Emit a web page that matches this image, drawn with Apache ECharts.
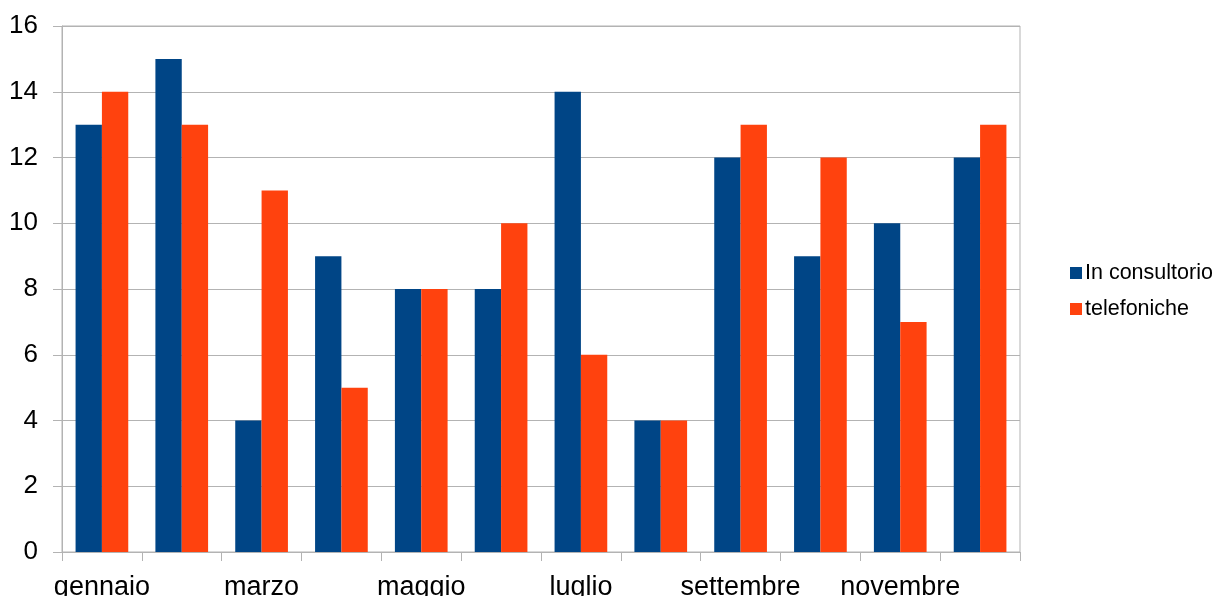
<!DOCTYPE html>
<html>
<head>
<meta charset="utf-8">
<script src="https://cdn.jsdelivr.net/npm/echarts@6/dist/echarts.min.js"></script>
<style>
  html, body { margin: 0; padding: 0; background: #fff; }
  #chart { width: 1220px; height: 596px; }
</style>
</head>
<body>
<div id="chart"></div>
<script>
// Monthly counts: in-office consultations vs. phone consultations
const months = ['gennaio', 'febbraio', 'marzo', 'aprile', 'maggio', 'giugno',
                'luglio', 'agosto', 'settembre', 'ottobre', 'novembre', 'dicembre'];
const inConsultorio = [13, 15, 4, 9, 8, 8, 14, 4, 12, 9, 10, 12];
const telefoniche   = [14, 13, 11, 5, 8, 10, 6, 4, 13, 12, 7, 13];
const seriesNames = ['In consultorio', 'telefoniche'];

const gridColor = '#b3b3b3';
const font = 'Liberation Sans, Arial, sans-serif';

const chart = echarts.init(document.getElementById('chart'), null, { renderer: 'canvas' });
chart.setOption({
  animation: false,
  backgroundColor: '#ffffff',
  grid: {
    left: 62, right: 200, top: 26, bottom: 44,
    show: true, borderColor: gridColor, borderWidth: 1,
    containLabel: false, outerBoundsMode: 'none'
  },
  legend: {
    orient: 'vertical',
    left: 1065, top: 257,
    itemWidth: 12, itemHeight: 12, itemGap: 14,
    icon: 'rect',
    textStyle: { fontFamily: font, fontSize: 21.5, color: '#000', padding: [0, 0, 0, -2] },
    data: seriesNames
  },
  xAxis: {
    type: 'category',
    data: months,
    boundaryGap: true,
    axisLine: { show: true, lineStyle: { color: gridColor, width: 1 } },
    axisTick: { show: true, interval: 0, length: 9, lineStyle: { color: gridColor } },
    axisLabel: {
      interval: 1, margin: 22,
      fontFamily: font, fontSize: 27, color: '#000'
    },
    splitLine: { show: false }
  },
  yAxis: {
    type: 'value',
    min: 0, max: 16, interval: 2,
    axisLine: { show: true, lineStyle: { color: gridColor, width: 1 } },
    axisTick: { show: true, length: 9, lineStyle: { color: gridColor } },
    axisLabel: { margin: 24, fontFamily: font, fontSize: 26, color: '#000' },
    splitLine: { show: true, lineStyle: { color: gridColor, width: 1 } }
  },
  series: [
    {
      name: seriesNames[0], type: 'bar', data: inConsultorio,
      barGap: '0%', barCategoryGap: '34%',
      itemStyle: { color: '#004586' }
    },
    {
      name: seriesNames[1], type: 'bar', data: telefoniche,
      barGap: '0%', barCategoryGap: '34%',
      itemStyle: { color: '#ff420e' }
    }
  ]
});
</script>
</body>
</html>
